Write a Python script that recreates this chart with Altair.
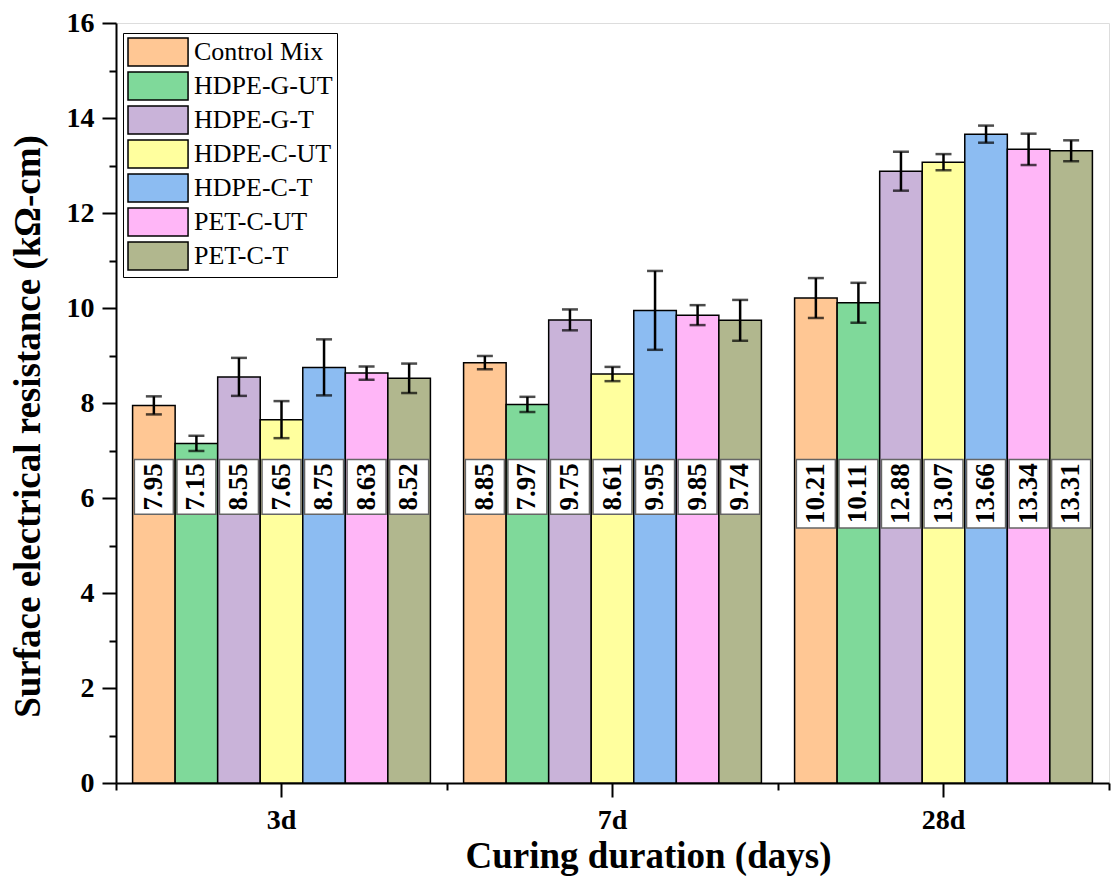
import altair as alt
import pandas as pd

groups = ["3d", "7d", "28d"]
series = ["Control Mix", "HDPE-G-UT", "HDPE-G-T", "HDPE-C-UT", "HDPE-C-T", "PET-C-UT", "PET-C-T"]
colors = ["#FFC794", "#7FD99A", "#C9B3D9", "#FFFF9E", "#8CBCF2", "#FFB6F7", "#B1B78E"]

vals_3d = [7.95, 7.15, 8.55, 7.65, 8.75, 8.63, 8.52]
vals_7d = [8.85, 7.97, 9.75, 8.61, 9.95, 9.85, 9.74]
vals_28d = [10.21, 10.11, 12.88, 13.07, 13.66, 13.34, 13.31]

err_3d = [0.19, 0.16, 0.40, 0.39, 0.59, 0.14, 0.31]
err_7d = [0.14, 0.16, 0.22, 0.15, 0.83, 0.21, 0.43]
err_28d = [0.42, 0.42, 0.41, 0.17, 0.18, 0.33, 0.22]

rows = []
for g, vals, errs in zip(groups, [vals_3d, vals_7d, vals_28d], [err_3d, err_7d, err_28d]):
    for s, v, e in zip(series, vals, errs):
        rows.append({"group": g, "series": s, "value": v, "err": e, "label": f"{v:.2f}"})
df = pd.DataFrame(rows)

FONT = "Liberation Serif"

xscale = alt.Scale(paddingInner=0, paddingOuter=0)
xoff = alt.XOffset("series:N", sort=series, scale=alt.Scale(paddingOuter=0.39, paddingInner=0))
yscale = alt.Scale(domain=[0, 16], nice=False)

base = alt.Chart(df).transform_calculate(
    lo="datum.value - datum.err",
    hi="datum.value + datum.err",
    btop="6.81",
    bbot="6.81 - 0.288 * length(datum.label)",
    bmid="6.81 - 0.144 * length(datum.label)",
)

y_axis = alt.Axis(
    values=list(range(0, 17)),
    labelExpr="datum.value % 2 === 0 ? datum.label : ''",
    tickSize={"condition": {"test": "datum.value % 2 === 0", "value": 14}, "value": 7},
    labelFont=FONT, labelFontWeight="bold", labelFontSize=28, labelColor="black",
    labelPadding=8, tickWidth=2, tickColor="black", domainWidth=2, domainColor="black",
    grid=False,
    title="Surface electrical resistance  (kΩ-cm)",
    titleFont=FONT, titleFontWeight="bold", titleFontSize=37, titleColor="black",
    titleX=-88, titleY=403, titleAlign="center", titleBaseline="middle", titleAngle=270,
)

bars = base.mark_bar(stroke="black", strokeWidth=1.5).encode(
    x=alt.X("group:N", sort=groups, scale=xscale,
            axis=alt.Axis(orient="bottom", tickBand="extent", tickSize=7, tickWidth=2,
                          tickColor="black", labels=False, title=None, domainWidth=2,
                          domainColor="black", grid=False)),
    xOffset=xoff,
    y=alt.Y("value:Q", scale=yscale, axis=y_axis),
    color=alt.Color("series:N", sort=series,
                    scale=alt.Scale(domain=series, range=colors),
                    legend=alt.Legend(
                        orient="none", legendX=7, legendY=10, title=None,
                        symbolType="M-1,-1L3.29,-1L3.29,1L-1,1Z", symbolSize=784,
                        symbolStrokeColor="black", symbolStrokeWidth=1.5, symbolOpacity=1,
                        labelFont=FONT, labelFontSize=26, labelColor="black",
                        labelOffset=37, rowPadding=0, padding=4,
                        strokeColor="black", fillColor="white")),
)

axis_lbl = base.mark_bar(opacity=0).encode(
    x=alt.X("group:N", sort=groups, scale=xscale,
            axis=alt.Axis(orient="bottom", tickBand="center", tickSize=14, tickWidth=2,
                          tickColor="black", labelFont=FONT, labelFontWeight="bold",
                          labelFontSize=28, labelColor="black", labelPadding=9,
                          labelAngle=0, domain=False, grid=False,
                          title="Curing duration (days)", titleFont=FONT,
                          titleFontWeight="bold", titleFontSize=37, titleColor="black",
                          titlePadding=4, titleX=532, titleAlign="center")),
    xOffset=xoff,
    y=alt.Y("value:Q", scale=yscale),
)

errbar = base.mark_rule(color="black", strokeWidth=2.5).encode(
    x=alt.X("group:N", sort=groups, scale=xscale, axis=None),
    xOffset=xoff,
    y=alt.Y("lo:Q", scale=yscale),
    y2="hi:Q",
)
cap_hi = base.mark_tick(color="black", thickness=2.5, size=16, orient="horizontal").encode(
    x=alt.X("group:N", sort=groups, scale=xscale, axis=None),
    xOffset=xoff,
    y=alt.Y("hi:Q", scale=yscale),
)
cap_lo = base.mark_tick(color="black", thickness=2.5, size=16, orient="horizontal").encode(
    x=alt.X("group:N", sort=groups, scale=xscale, axis=None),
    xOffset=xoff,
    y=alt.Y("lo:Q", scale=yscale),
)

boxes = base.mark_bar(fill="white", stroke="#666666", strokeWidth=1.5, width=39).encode(
    x=alt.X("group:N", sort=groups, scale=xscale, axis=None),
    xOffset=xoff,
    y=alt.Y("btop:Q", scale=yscale),
    y2="bbot:Q",
)

texts = base.mark_text(angle=270, font=FONT, fontWeight="bold", fontSize=27,
                       color="black", align="center", baseline="middle").encode(
    x=alt.X("group:N", sort=groups, scale=xscale, axis=None),
    xOffset=xoff,
    y=alt.Y("bmid:Q", scale=yscale),
    text="label:N",
)

chart = alt.layer(bars, axis_lbl, errbar, cap_hi, cap_lo, boxes, texts).resolve_axis(
    x="independent"
).properties(
    width=993, height=760,
    autosize=alt.AutoSizeParams(type="none"),
    padding={"left": 108, "top": 15, "right": 2, "bottom": 93},
).configure_view(stroke="black", strokeWidth=2).configure(background="white")

chart.save("out.html", embed_options={"renderer": "svg", "actions": False})
